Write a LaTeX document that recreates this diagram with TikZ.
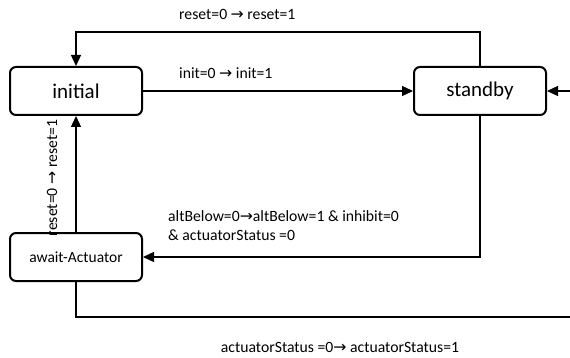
\documentclass[tikz,border=0pt]{standalone}
\usepackage{fontspec}
\setmainfont{Carlito}
\newfontfamily\symfont{DejaVu Sans}
\usetikzlibrary{arrows.meta}
\newcommand{\goesto}{{\symfont →}}
\begin{document}
\begin{tikzpicture}[x=1pt,y=-1pt,
  state/.style={draw,line width=2pt,rounded corners=6pt,minimum width=132pt,minimum height=48pt,inner sep=0pt},
  bigstate/.style={state,font=\fontsize{21pt}{25pt}\selectfont},
  smallstate/.style={state,font=\fontsize{15.5pt}{19pt}\selectfont},
  link/.style={line width=1.3pt},
  arr/.style={link,-{Triangle[length=11pt,width=10pt]}},
  lbl/.style={inner sep=0pt,font=\fontsize{15.7pt}{19pt}\selectfont}]
\useasboundingbox (0,0) rectangle (570,358);

% states
\node[bigstate] (initial) at (76,91) {initial};
\node[bigstate] (standby) at (480,91) {standby};
\node[smallstate] (await) at (76,257) {await-Actuator};

% free ends at the right margin
\coordinate (rin) at (570,91);
\coordinate (rout) at (570,317);

% transitions
\draw[arr] (initial.east) -- (standby.west);
\draw[arr] (standby.north) -- ++(0,-34) -| (initial.north);
\draw[arr] (rin) -- (standby.east);
\draw[arr] (standby.south) |- (await.east);
\draw[arr] (await.north) -- (initial.south);
\draw[link] (await.south) |- (rout);

% transition labels
\node[lbl,anchor=west] (lreset) at (179,14) {reset=0 \goesto{} reset=1};
\node[lbl,anchor=west] (linit) at (179,73) {init=0 \goesto{} init=1};
\node[lbl,anchor=center,rotate=90] (lback) at (52,178) {reset=0 \goesto{} reset=1};
\node[lbl,anchor=west,align=left] (lalt) at (168,225.5) {altBelow=0\goesto altBelow=1 \& inhibit=0\\\& actuatorStatus =0};
\node[lbl,anchor=center] (lact) at (340,347) {actuatorStatus =0\goesto{} actuatorStatus=1};
\end{tikzpicture}
\end{document}
